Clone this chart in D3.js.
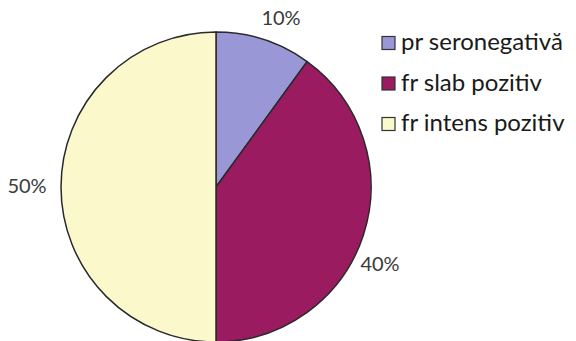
<!DOCTYPE html>
<html>
<head>
<meta charset="utf-8">
<script src="https://cdn.jsdelivr.net/npm/d3@7"></script>
<style>
  body { margin: 0; background: #fff; }
  text { font-family: Lato, "Open Sans", sans-serif; }
</style>
</head>
<body>
<div id="chart"></div>
<script>
(function () {
	var width = 576;
	var height = 341;

	var categories = ["pr seronegativă", "fr slab pozitiv", "fr intens pozitiv"];
	var values = [10, 40, 50];
	var labels = ["10%", "40%", "50%"];
	var colors = ["#9a97d6", "#9b1b60", "#fbf8cb"];

	var svg = d3.select("#chart")
	   .append("svg")
	   .attr("width", width)
	   .attr("height", height)

	var cx = 216, cy = 187, r = 155;

	var pie = d3.pie().sort(null).value(function (d) { return d; });
	var arcs = pie(values);

	var arc = d3.arc().innerRadius(0).outerRadius(r);

	var g = svg.append("g")
	   .attr("transform", "translate(" + cx + "," + cy + ")")

	g.selectAll("path")
	  .data(arcs)
	  .enter().append("path")
	  .attr("d", arc)
	  .attr("fill", function (d, i) { return colors[i]; })
	  .attr("stroke", "#2a2a2a")
	  .attr("stroke-width", 1.5)

	// label offsets tuned to the reference placement
	var labelPos = [[65, -167], [164, 79], [-189, 1]];
	g.selectAll(".pct")
	  .data(arcs)
	  .enter().append("text")
	  .attr("class", "pct")
	  .attr("x", function (d, i) { return labelPos[i][0]; })
	  .attr("y", function (d, i) { return labelPos[i][1]; })
	  .attr("text-anchor", "middle")
	  .attr("dominant-baseline", "middle")
	  .attr("font-size", 20)
	  .attr("fill", "#3a3a3a")
	  .text(function (d, i) { return labels[i]; })

	var legend = svg.append("g")
	   .attr("transform", "translate(382, 43)")

	var rows = legend.selectAll("g")
	  .data(categories)
	  .enter().append("g")
	  .attr("transform", function (d, i) { return "translate(0," + (i * 40.5) + ")"; })

	rows.append("rect")
	  .attr("x", 0).attr("y", -6.5)
	  .attr("width", 13).attr("height", 13)
	  .attr("fill", function (d, i) { return colors[i]; })
	  .attr("stroke", "#333")
	  .attr("stroke-width", 1.2)

	rows.append("text")
	  .attr("x", 19)
	  .attr("y", 1)
	  .attr("dominant-baseline", "middle")
	  .attr("font-size", 24)
	  .attr("fill", "#1a1a1a")
	  .text(function (d) { return d; })
})();
</script>
</body>
</html>
